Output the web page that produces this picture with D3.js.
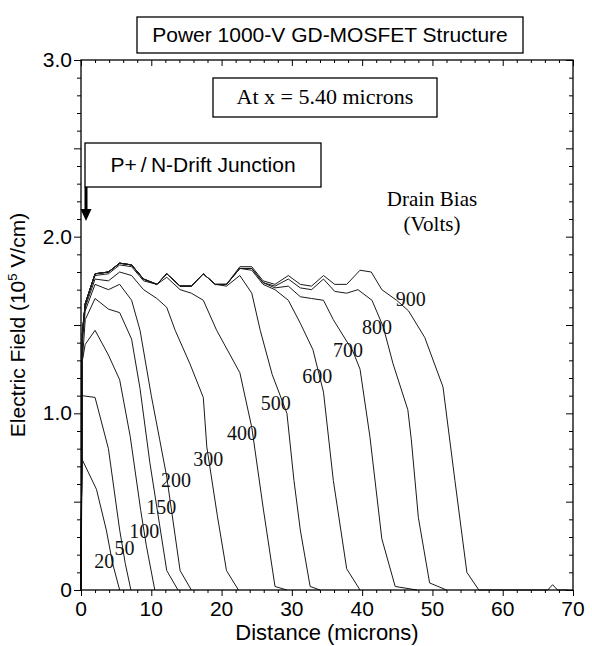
<!DOCTYPE html>
<html><head><meta charset="utf-8">
<script src="https://cdn.jsdelivr.net/npm/d3@7/dist/d3.min.js"></script>
<style>body{margin:0;background:#fff}svg{display:block}</style>
</head><body>
<svg id="c" width="592" height="646"></svg>
<script>
// ---- data ----
const xTicks = [0,10,20,30,40,50,60,70];
const xTickLabels = ["0","10","20","30","40","50","60","70"];
const yTicks = [0,1,2,3];
const yTickLabels = ["0","1.0","2.0","3.0"];
const biasNames = ["20","50","100","150","200","300","400","500","600","700","800","900"];
const biasLabelX = [3.3,6.2,9.0,11.4,13.5,18.1,22.9,27.7,33.6,38.0,42.1,46.9];
const biasLabelY = [0.165,0.235,0.335,0.47,0.62,0.74,0.89,1.06,1.21,1.36,1.49,1.65];

const s20 = [[0,0],[0.15,0.74],[2.2,0.57],[3.6,0.34],[4.5,0.15],[5.5,0.0]];
const s50 = [[0,0],[0.15,1.10],[2.0,1.09],[3.9,0.80],[5.5,0.34],[6.3,0.15],[7.1,0.0]];
const s100 = [[0,0],[0.2,1.30],[0.6,1.39],[2.0,1.47],[3.9,1.33],[5.5,1.19],[7.0,0.87],[8.5,0.45],[9.3,0.25],[10.5,0.0]];
const s150 = [[0,0],[0.2,1.30],[0.6,1.53],[2.0,1.65],[3.9,1.59],[5.5,1.57],[7.2,1.42],[8.4,1.14],[9.8,0.72],[12.2,0.11],[13.8,0.0]];
const s200 = [[0,0],[0.2,1.40],[0.6,1.58],[2.0,1.73],[3.9,1.70],[5.5,1.73],[7.2,1.64],[8.4,1.47],[10.0,1.10],[11.2,0.85],[12.2,0.64],[14.1,0.11],[15.7,0.0]];
const s300 = [[0,0],[0.2,1.48],[0.6,1.60],[2.0,1.76],[3.9,1.75],[5.5,1.80],[7.2,1.78],[8.9,1.70],[10.8,1.65],[12.2,1.60],[13.4,1.47],[15.5,1.28],[17.4,1.09],[17.9,0.81],[19.4,0.42],[20.7,0.11],[22.4,0.0]];
const s400 = [[0,0],[0.2,1.45],[0.6,1.62],[2.0,1.78],[3.9,1.79],[5.5,1.84],[7.2,1.83],[8.9,1.75],[10.8,1.73],[12.2,1.77],[14.1,1.70],[15.7,1.68],[17.4,1.64],[19.3,1.47],[22.6,1.23],[24.3,0.92],[25.9,0.47],[27.6,0.02],[29.3,0.0]];
const s500 = [[0,0],[0.2,1.45],[0.6,1.62],[2.0,1.79],[3.9,1.80],[5.5,1.85],[7.2,1.84],[8.9,1.76],[10.8,1.73],[12.2,1.79],[14.1,1.72],[15.7,1.72],[17.4,1.79],[19.1,1.73],[20.7,1.72],[22.6,1.78],[24.3,1.68],[25.5,1.47],[27.2,1.22],[29.3,1.00],[30.3,0.62],[31.2,0.34],[32.6,0.02],[34.0,0.0]];
const s600 = [[0,0],[0.2,1.45],[0.6,1.62],[2.0,1.79],[3.9,1.80],[5.5,1.85],[7.2,1.84],[8.9,1.76],[10.8,1.73],[12.2,1.79],[14.1,1.72],[15.7,1.72],[17.4,1.79],[19.1,1.73],[20.7,1.73],[22.6,1.82],[24.3,1.81],[25.9,1.73],[27.6,1.70],[29.5,1.64],[31.2,1.51],[33.0,1.36],[34.5,1.12],[35.9,0.62],[37.8,0.12],[39.7,0.0]];
const s700 = [[0,0],[0.2,1.45],[0.6,1.62],[2.0,1.79],[3.9,1.80],[5.5,1.85],[7.2,1.84],[8.9,1.76],[10.8,1.73],[12.2,1.79],[14.1,1.72],[15.7,1.72],[17.4,1.79],[19.1,1.73],[20.7,1.73],[22.6,1.82],[24.3,1.82],[25.9,1.74],[27.6,1.71],[29.5,1.72],[31.2,1.66],[32.8,1.65],[34.5,1.64],[35.9,1.53],[38.7,1.35],[39.7,1.25],[41.1,0.87],[42.8,0.29],[44.7,0.02],[47.8,0.0]];
const s800 = [[0,0],[0.2,1.45],[0.6,1.62],[2.0,1.79],[3.9,1.80],[5.5,1.85],[7.2,1.84],[8.9,1.76],[10.8,1.73],[12.2,1.79],[14.1,1.72],[15.7,1.72],[17.4,1.79],[19.1,1.73],[20.7,1.73],[22.6,1.82],[24.3,1.82],[25.9,1.74],[27.6,1.72],[29.5,1.76],[31.2,1.71],[32.8,1.70],[34.5,1.76],[36.1,1.69],[37.8,1.68],[39.4,1.70],[41.4,1.64],[43.0,1.49],[44.4,1.28],[46.5,1.02],[47.0,0.85],[48.0,0.41],[49.6,0.04],[52.0,0.0]];
const s900 = [[0,0],[0.2,1.45],[0.6,1.62],[2.0,1.79],[3.9,1.80],[5.5,1.85],[7.2,1.84],[8.9,1.76],[10.8,1.73],[12.2,1.79],[14.1,1.72],[15.7,1.72],[17.4,1.79],[19.1,1.73],[20.7,1.73],[22.6,1.83],[24.3,1.83],[25.9,1.75],[27.6,1.73],[29.5,1.78],[31.2,1.73],[32.8,1.72],[34.5,1.78],[36.1,1.73],[37.8,1.73],[39.7,1.81],[41.3,1.80],[42.8,1.70],[44.9,1.64],[46.6,1.58],[48.9,1.43],[51.5,1.15],[53.2,0.62],[54.9,0.10],[56.6,0.0],[66.4,0.0],[67.1,0.03],[67.8,0.0],[69.2,0.0]];
const allSeries = [s20,s50,s100,s150,s200,s300,s400,s500,s600,s700,s800,s900];

// ---- layout ----
const L = 81, R = 573, T = 60, B = 590;
const sans = "'Liberation Sans', Arial, sans-serif";
const serif = "'Liberation Serif', 'Times New Roman', serif";
const svg = d3.select("#c");
const x = d3.scaleLinear().domain([0,70]).range([L,R]);
const y = d3.scaleLinear().domain([0,3]).range([B,T]);

// curves
const line = d3.line().x(d => x(d[0])).y(d => y(d[1]));
svg.append("g").selectAll("path").data(allSeries).join("path")
  .attr("d", line).attr("fill","none").attr("stroke","#1a1a1a")
  .attr("stroke-width",1).attr("stroke-linejoin","round");

// frame
svg.append("rect").attr("x",L).attr("y",T).attr("width",R-L).attr("height",B-T)
  .attr("fill","none").attr("stroke","#000").attr("stroke-width",1.3);

// ticks
const xMinor = d3.range(0,71,2).filter(v => v % 10 !== 0);
const yMinor = d3.range(0,31).map(v => v/10).filter((v,i) => i % 5 !== 0);
const yMajor = [0,0.5,1,1.5,2,2.5,3];
function styleAxis(g){ g.select(".domain").remove(); g.selectAll("line").attr("stroke","#000").attr("stroke-width",1); g.selectAll("text").remove(); }
svg.append("g").attr("transform",`translate(0,${B})`).call(d3.axisBottom(x).tickValues(xMinor).tickSize(3)).call(styleAxis);
svg.append("g").attr("transform",`translate(0,${B})`).call(d3.axisBottom(x).tickValues(xTicks).tickSize(6)).call(styleAxis);
svg.append("g").attr("transform",`translate(0,${T})`).call(d3.axisTop(x).tickValues(xMinor).tickSize(-3)).call(styleAxis);
svg.append("g").attr("transform",`translate(0,${T})`).call(d3.axisTop(x).tickValues(xTicks).tickSize(-6)).call(styleAxis);
svg.append("g").attr("transform",`translate(${L},0)`).call(d3.axisLeft(y).tickValues(yMinor).tickSize(4)).call(styleAxis);
svg.append("g").attr("transform",`translate(${L},0)`).call(d3.axisLeft(y).tickValues(yMajor).tickSize(7)).call(styleAxis);
svg.append("g").attr("transform",`translate(${R},0)`).call(d3.axisRight(y).tickValues(yMinor).tickSize(-4)).call(styleAxis);
svg.append("g").attr("transform",`translate(${R},0)`).call(d3.axisRight(y).tickValues(yMajor).tickSize(-7)).call(styleAxis);

// tick labels
svg.append("g").selectAll("text").data(xTicks).join("text")
  .attr("x", d => x(d)).attr("y", B + 26).attr("text-anchor","middle")
  .attr("font-family",sans).attr("font-size",21).text((d,i) => xTickLabels[i]);
svg.append("g").selectAll("text").data(yTicks).join("text")
  .attr("x", L - 9).attr("y", d => y(d) + 7).attr("text-anchor","end")
  .attr("font-family",sans).attr("font-size",21).text((d,i) => yTickLabels[i]);

// axis titles
svg.append("text").attr("x",(L+R)/2).attr("y",640).attr("text-anchor","middle")
  .attr("font-family",sans).attr("font-size",22).text("Distance (microns)");
const yt = svg.append("text").attr("transform",`translate(25,${(T+B)/2}) rotate(-90)`)
  .attr("text-anchor","middle").attr("font-family",sans).attr("font-size",21);
yt.append("tspan").text("Electric Field (10");
yt.append("tspan").attr("font-size",13).attr("dy",-8).text("5");
yt.append("tspan").attr("dy",8).text(" V/cm)");

// bias labels
svg.append("g").selectAll("text").data(biasNames).join("text")
  .attr("x",(d,i) => x(biasLabelX[i])).attr("y",(d,i) => y(biasLabelY[i]))
  .attr("dy","0.35em").attr("text-anchor","middle")
  .attr("font-family",serif).attr("font-size",20).attr("fill","#111").text(d => d);

// boxes
function box(x0,y0,x1,y1){
  svg.append("rect").attr("x",x0).attr("y",y0).attr("width",x1-x0).attr("height",y1-y0)
    .attr("fill","#fff").attr("stroke","#000").attr("stroke-width",1.3);
}
box(137,17,523,53);
svg.append("text").attr("x",330).attr("y",42).attr("text-anchor","middle")
  .attr("font-family",sans).attr("font-size",21).text("Power 1000-V GD-MOSFET Structure");
box(213,78,437,117);
svg.append("text").attr("x",325).attr("y",104).attr("text-anchor","middle")
  .attr("font-family",serif).attr("font-size",22).text("At x = 5.40 microns");
box(85,143,321,187);
svg.append("text").attr("x",203).attr("y",172).attr("text-anchor","middle")
  .attr("font-family",sans).attr("font-size",21).text("P+\u2009/\u2009N-Drift Junction");

// arrow
svg.append("line").attr("x1",86).attr("y1",187).attr("x2",86).attr("y2",211)
  .attr("stroke","#000").attr("stroke-width",3);
svg.append("path").attr("d","M80.5,209 L91.5,209 L86,221 Z").attr("fill","#000");

// drain bias note
svg.append("text").attr("x",432).attr("y",206).attr("text-anchor","middle")
  .attr("font-family",serif).attr("font-size",21).text("Drain Bias");
svg.append("text").attr("x",432).attr("y",231).attr("text-anchor","middle")
  .attr("font-family",serif).attr("font-size",21).text("(Volts)");
</script>
</body></html>
